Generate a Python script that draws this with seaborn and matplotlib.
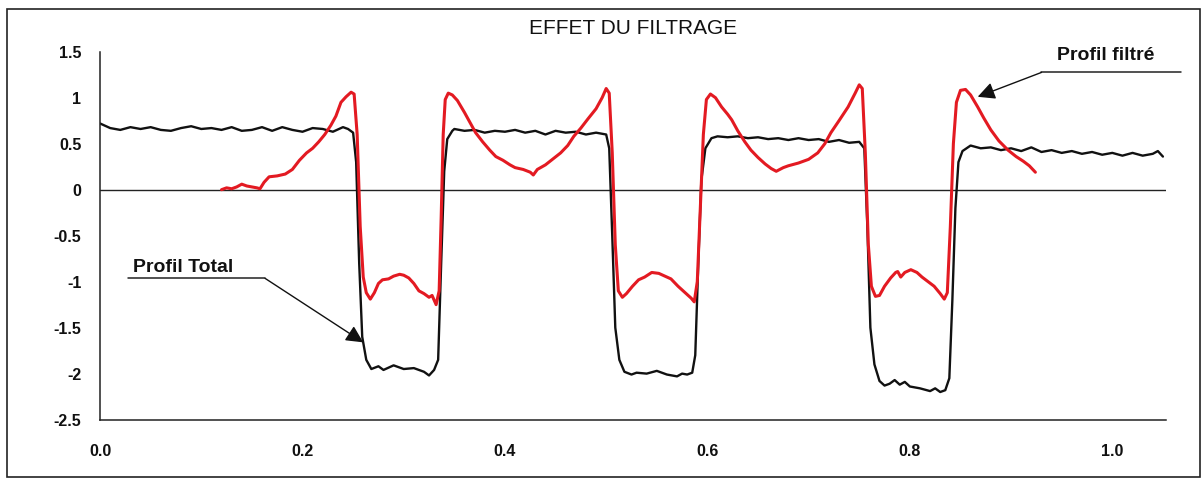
import numpy as np
import pandas as pd
import matplotlib
matplotlib.use("Agg")
import matplotlib.pyplot as plt
from matplotlib.patches import Rectangle
import seaborn as sns

# =========================
# DATA
# =========================

# Profil Total (black)
total_x = [
    0.000, 0.010, 0.020, 0.030, 0.040, 0.050, 0.060, 0.070, 0.080, 0.090,
    0.100, 0.110, 0.120, 0.130, 0.140, 0.150, 0.160, 0.170, 0.180, 0.190,
    0.200, 0.210, 0.220, 0.230, 0.240, 0.245, 0.250, 0.253, 0.256, 0.259,
    0.263, 0.268, 0.275, 0.280, 0.290, 0.300, 0.310, 0.320, 0.325, 0.330,
    0.334, 0.337, 0.340, 0.343, 0.348, 0.350, 0.360, 0.370, 0.380, 0.390,
    0.400, 0.410, 0.420, 0.430, 0.440, 0.450, 0.460, 0.470, 0.480, 0.490,
    0.500, 0.503, 0.506, 0.509, 0.513, 0.518, 0.525, 0.530, 0.540, 0.550,
    0.560, 0.570, 0.575, 0.580, 0.585, 0.588, 0.591, 0.594, 0.598, 0.604,
    0.610, 0.620, 0.630, 0.640, 0.650, 0.660, 0.670, 0.680, 0.690, 0.700,
    0.710, 0.720, 0.730, 0.740, 0.750, 0.755, 0.758, 0.761, 0.765, 0.770,
    0.775, 0.780, 0.785, 0.790, 0.795, 0.800, 0.810, 0.820, 0.825, 0.830,
    0.835, 0.839, 0.842, 0.845, 0.848, 0.852, 0.860, 0.870, 0.880, 0.890,
    0.900, 0.910, 0.920, 0.930, 0.940, 0.950, 0.960, 0.970, 0.980, 0.990,
    1.000, 1.010, 1.020, 1.030, 1.040, 1.045, 1.050,
]
total_y = [
    0.72, 0.67, 0.65, 0.68, 0.66, 0.68, 0.65, 0.64, 0.67, 0.69,
    0.66, 0.67, 0.65, 0.68, 0.64, 0.65, 0.68, 0.64, 0.68, 0.65,
    0.63, 0.67, 0.66, 0.63, 0.68, 0.66, 0.62, 0.30, -0.80, -1.60,
    -1.85, -1.95, -1.92, -1.96, -1.91, -1.95, -1.94, -1.98, -2.02, -1.96,
    -1.85, -0.80, 0.20, 0.55, 0.64, 0.66, 0.64, 0.65, 0.62, 0.64,
    0.63, 0.65, 0.62, 0.64, 0.60, 0.64, 0.62, 0.63, 0.60, 0.62,
    0.60, 0.45, -0.50, -1.50, -1.85, -1.98, -2.01, -1.99, -2.00, -1.97,
    -2.01, -2.03, -2.00, -2.01, -1.99, -1.80, -0.80, 0.10, 0.45, 0.56,
    0.58, 0.57, 0.58, 0.56, 0.57, 0.55, 0.56, 0.54, 0.56, 0.54,
    0.55, 0.52, 0.54, 0.51, 0.52, 0.45, -0.40, -1.50, -1.90, -2.08,
    -2.13, -2.11, -2.07, -2.12, -2.09, -2.14, -2.16, -2.19, -2.16, -2.20,
    -2.18, -2.05, -1.20, -0.20, 0.30, 0.42, 0.48, 0.45, 0.46, 0.43,
    0.45, 0.42, 0.46, 0.41, 0.43, 0.40, 0.42, 0.39, 0.41, 0.38,
    0.40, 0.37, 0.40, 0.37, 0.39, 0.42, 0.36,
]

# Profil filtré (red)
filt_x = [
    0.120, 0.125, 0.130, 0.135, 0.140, 0.145, 0.150, 0.155, 0.158, 0.162,
    0.167, 0.175, 0.183, 0.190, 0.197, 0.204, 0.210, 0.216, 0.222, 0.228,
    0.233, 0.238, 0.243, 0.248, 0.251, 0.254, 0.257, 0.260, 0.263, 0.267,
    0.271, 0.275, 0.279, 0.285, 0.290, 0.296, 0.300, 0.305, 0.310, 0.315,
    0.320, 0.325, 0.328, 0.332, 0.335, 0.337, 0.339, 0.341, 0.344, 0.348,
    0.353, 0.360, 0.366, 0.371, 0.378, 0.385, 0.391, 0.398, 0.405, 0.410,
    0.418, 0.425, 0.428, 0.432, 0.440, 0.447, 0.455, 0.462, 0.468, 0.475,
    0.482, 0.490, 0.496, 0.500, 0.503, 0.506, 0.509, 0.512, 0.516, 0.520,
    0.526, 0.532, 0.538, 0.545, 0.552, 0.558, 0.564, 0.571, 0.578, 0.584,
    0.587, 0.590, 0.593, 0.596, 0.599, 0.603, 0.608, 0.614, 0.620, 0.624,
    0.630, 0.637, 0.643, 0.650, 0.657, 0.663, 0.668, 0.675, 0.680, 0.690,
    0.700, 0.709, 0.716, 0.722, 0.730, 0.739, 0.746, 0.750, 0.753, 0.756,
    0.759, 0.762, 0.766, 0.770, 0.775, 0.781, 0.786, 0.788, 0.791, 0.795,
    0.801, 0.807, 0.812, 0.818, 0.824, 0.830, 0.834, 0.837, 0.840, 0.843,
    0.846, 0.850, 0.855, 0.860, 0.867, 0.873, 0.880, 0.888, 0.897, 0.905,
    0.912, 0.918, 0.924,
]
filt_y = [
    0.00, 0.02, 0.01, 0.03, 0.06, 0.04, 0.03, 0.02, 0.01, 0.08,
    0.14, 0.15, 0.17, 0.22, 0.32, 0.40, 0.45, 0.52, 0.60, 0.70,
    0.80, 0.95, 1.01, 1.06, 1.04, 0.60, -0.40, -0.95, -1.12, -1.19,
    -1.12, -1.02, -0.98, -0.97, -0.94, -0.92, -0.93, -0.96, -1.02, -1.10,
    -1.13, -1.17, -1.15, -1.25, -1.10, -0.30, 0.60, 0.98, 1.05, 1.03,
    0.97, 0.84, 0.72, 0.62, 0.52, 0.43, 0.36, 0.32, 0.27, 0.24,
    0.22, 0.19, 0.16, 0.22, 0.27, 0.33, 0.40, 0.48, 0.58, 0.67,
    0.77, 0.88, 1.00, 1.10, 1.05, 0.40, -0.60, -1.10, -1.17, -1.13,
    -1.05, -0.98, -0.95, -0.90, -0.91, -0.94, -0.97, -1.05, -1.12, -1.18,
    -1.22, -1.00, -0.20, 0.60, 0.98, 1.04, 1.00, 0.90, 0.82, 0.76,
    0.64, 0.52, 0.43, 0.35, 0.28, 0.23, 0.20, 0.24, 0.26, 0.29,
    0.33, 0.40, 0.50, 0.62, 0.75, 0.90, 1.05, 1.14, 1.10, 0.40,
    -0.60, -1.05, -1.16, -1.15, -1.05, -0.96, -0.90, -0.89, -0.95, -0.90,
    -0.87, -0.90, -0.95, -1.00, -1.05, -1.13, -1.19, -1.12, -0.40, 0.50,
    0.95, 1.08, 1.09, 1.03, 0.90, 0.78, 0.65, 0.53, 0.43, 0.36,
    0.31, 0.26, 0.19,
]

x_ticks = [0.0, 0.2, 0.4, 0.6, 0.8, 1.0]
x_ticklabels = ["0.0", "0.2", "0.4", "0.6", "0.8", "1.0"]
y_ticks = [1.5, 1, 0.5, 0, -0.5, -1, -1.5, -2, -2.5]
y_ticklabels = ["1.5", "1", "0.5", "0", "-0.5", "-1", "-1.5", "-2", "-2.5"]

title = "EFFET DU FILTRAGE"
label_total = "Profil Total"
label_filt = "Profil filtré"

# =========================
# STYLE
# =========================
sns.set_style("white")
plt.rcParams["font.family"] = ["Liberation Sans", "DejaVu Sans"]

df_total = pd.DataFrame({"x": total_x, "y": total_y})
df_filt = pd.DataFrame({"x": filt_x, "y": filt_y})

fig = plt.figure(figsize=(12.04, 4.79), dpi=100)
ax = fig.add_axes([0.0831, 0.124, 0.8853, 0.768])

# zero reference line
ax.axhline(0, color="#222222", lw=1.0, zorder=1)

sns.lineplot(data=df_total, x="x", y="y", ax=ax, color="#111111",
             lw=1.7, sort=False, estimator=None, zorder=2)
sns.lineplot(data=df_filt, x="x", y="y", ax=ax, color="#e31a22",
             lw=2.2, sort=False, estimator=None, zorder=3)

ax.set_xlim(0, 1.053)
ax.set_ylim(-2.5, 1.5)
ax.set_xticks(x_ticks)
ax.set_xticklabels(x_ticklabels)
ax.set_yticks(y_ticks)
ax.set_yticklabels(y_ticklabels)
ax.set_xlabel("")
ax.set_ylabel("")

for side in ["top", "right"]:
    ax.spines[side].set_visible(False)
for side in ["left", "bottom"]:
    ax.spines[side].set_color("#222222")
    ax.spines[side].set_linewidth(1.1)

ax.tick_params(axis="both", direction="inout", length=9, width=1,
               color="#222222", labelsize=11.5, labelcolor="#111111")
ax.tick_params(axis="y", pad=9)
ax.tick_params(axis="x", pad=13)
for lab in ax.get_xticklabels() + ax.get_yticklabels():
    lab.set_fontweight("bold")

ax.set_title(title, fontsize=15, color="#111111", pad=13)

# ---- annotations ----
ax.text(0.0326, -0.89, label_total, fontsize=14, fontweight="bold",
        color="#111111", va="baseline", ha="left")
ax.plot([0.0277, 0.163], [-0.964, -0.964], color="#222222", lw=1.1)
ax.annotate("", xy=(0.26, -1.66), xytext=(0.163, -0.964),
            arrowprops=dict(arrowstyle="-|>", color="#111111", lw=1.0,
                            mutation_scale=26, shrinkA=0, shrinkB=0))

ax.text(0.945, 1.41, label_filt, fontsize=14, fontweight="bold",
        color="#111111", va="baseline", ha="left", clip_on=False)
ax.plot([0.930, 1.068], [1.275, 1.275], color="#222222", lw=1.1,
        clip_on=False)
ax.annotate("", xy=(0.867, 1.01), xytext=(0.930, 1.275),
            arrowprops=dict(arrowstyle="-|>", color="#111111", lw=1.0,
                            mutation_scale=26, shrinkA=0, shrinkB=0))

# outer frame of the figure
fig.patches.append(Rectangle((0.0058, 0.004), 0.9909, 0.977,
                             transform=fig.transFigure, fill=False,
                             edgecolor="#222222", lw=1.2))

fig.savefig("out.png", dpi=100)
plt.close(fig)
